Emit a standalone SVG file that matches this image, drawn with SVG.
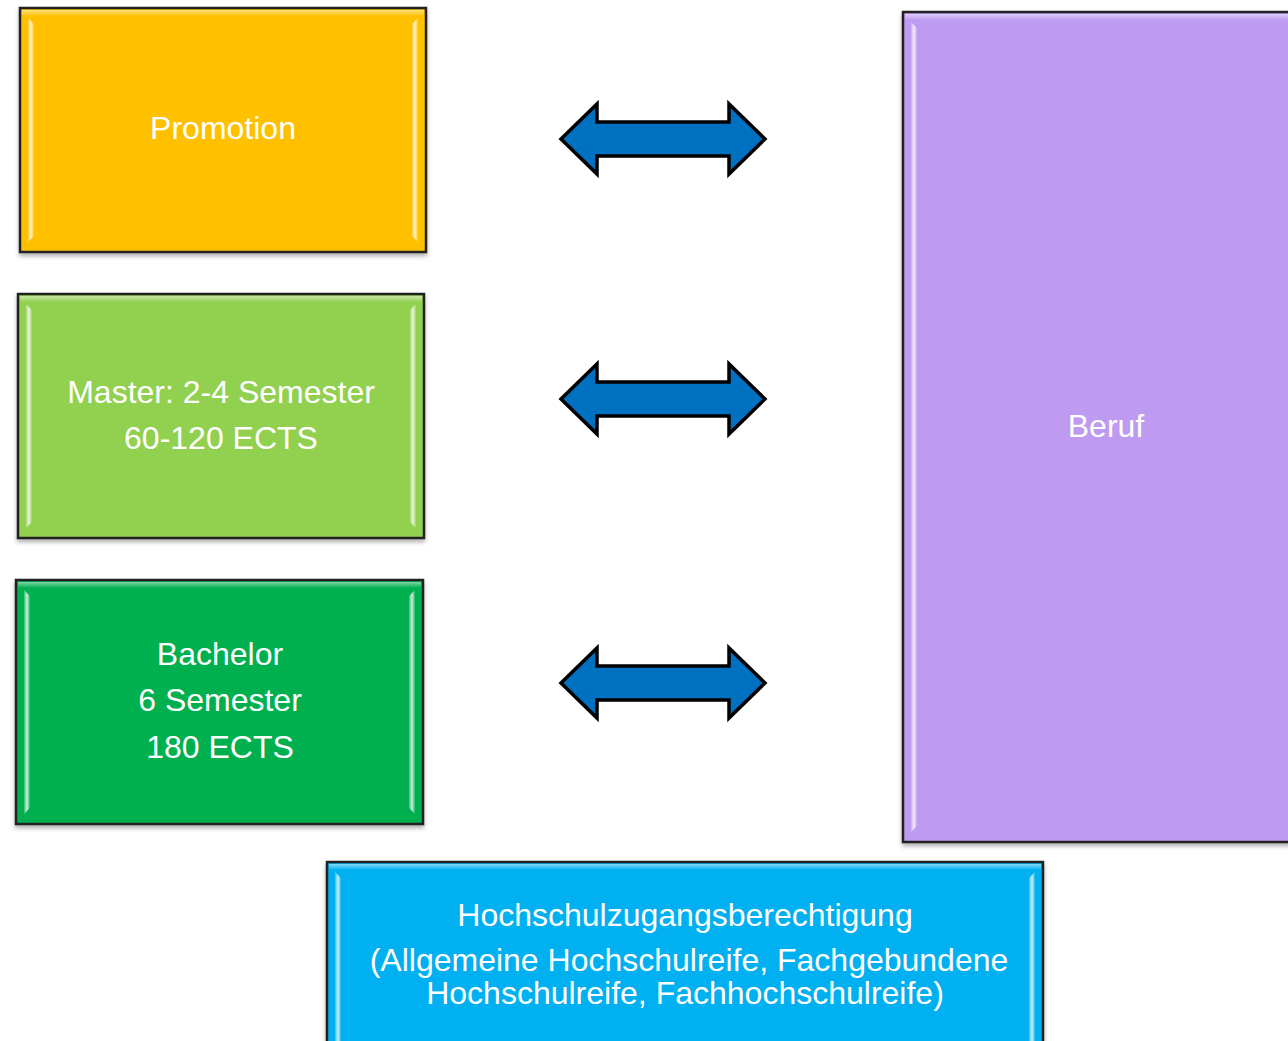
<svg xmlns="http://www.w3.org/2000/svg" width="1288" height="1041" viewBox="0 0 1288 1041">
<defs>
<filter id="sh" x="-5%" y="-5%" width="110%" height="115%"><feDropShadow dx="0" dy="3" stdDeviation="2" flood-color="#000" flood-opacity="0.3"/></filter>
<linearGradient id="hl" x1="0" y1="0" x2="1" y2="0"><stop offset="0" stop-color="#fff" stop-opacity="0.2"/><stop offset="0.5" stop-color="#fff" stop-opacity="0.8"/><stop offset="1" stop-color="#fff" stop-opacity="0.1"/></linearGradient>
<linearGradient id="ht" x1="0" y1="0" x2="0" y2="1"><stop offset="0" stop-color="#fff" stop-opacity="0.5"/><stop offset="1" stop-color="#fff" stop-opacity="0"/></linearGradient>
<path id="arr" d="M2,38 L38,3 L38,21 L170,21 L170,3 L206,38 L170,73 L170,55 L38,55 L38,73 Z"/>
</defs>
<style>
.box{stroke:#222;stroke-width:2.5}
.t{font-family:"Liberation Sans",Arial,sans-serif;font-size:32px;fill:#fff;text-anchor:middle}
.a{fill:#0070C0;stroke:#000;stroke-width:3.5;stroke-linejoin:miter}
</style>
<rect width="1288" height="1041" fill="#fff"/>
<g id="promotion">
<rect class="box" x="20" y="8" width="406" height="244" fill="#FFC000" filter="url(#sh)"/>
<rect x="22" y="10" width="402" height="6" fill="url(#ht)"/>
<path d="M28,18 L34,24 L34,236 L28,242 Z" fill="url(#hl)"/>
<path d="M418,18 L412,24 L412,236 L418,242 Z" fill="url(#hl)"/>
<text class="t" x="223" y="139">Promotion</text>
</g>
<g id="master">
<rect class="box" x="18" y="294" width="406" height="244" fill="#92D050" filter="url(#sh)"/>
<rect x="20" y="296" width="402" height="6" fill="url(#ht)"/>
<path d="M26,304 L32,310 L32,522 L26,528 Z" fill="url(#hl)"/>
<path d="M416,304 L410,310 L410,522 L416,528 Z" fill="url(#hl)"/>
<text class="t" x="221" y="403">Master: 2-4 Semester</text>
<text class="t" x="221" y="449">60-120 ECTS</text>
</g>
<g id="bachelor">
<rect class="box" x="16" y="580" width="407" height="244" fill="#00B050" filter="url(#sh)"/>
<rect x="18" y="582" width="403" height="6" fill="url(#ht)"/>
<path d="M24,590 L30,596 L30,808 L24,814 Z" fill="url(#hl)"/>
<path d="M415,590 L409,596 L409,808 L415,814 Z" fill="url(#hl)"/>
<text class="t" x="220" y="665">Bachelor</text>
<text class="t" x="220" y="711">6 Semester</text>
<text class="t" x="220" y="758">180 ECTS</text>
</g>
<g id="beruf">
<rect class="box" x="903" y="12" width="400" height="830" fill="#BE9AF0" filter="url(#sh)"/>
<rect x="905" y="14" width="383" height="6" fill="url(#ht)"/>
<path d="M911,22 L917,28 L917,826 L911,832 Z" fill="url(#hl)"/>
<text class="t" x="1106" y="437">Beruf</text>
</g>
<g id="hzb">
<rect class="box" x="327" y="862" width="716" height="200" fill="#00B0F0" filter="url(#sh)"/>
<rect x="329" y="864" width="712" height="6" fill="url(#ht)"/>
<path d="M335,872 L341,878 L341,1041 L335,1041 Z" fill="url(#hl)"/>
<path d="M1035,872 L1029,878 L1029,1041 L1035,1041 Z" fill="url(#hl)"/>
<text class="t" x="685" y="926">Hochschulzugangsberechtigung</text>
<text class="t" x="689" y="971">(Allgemeine Hochschulreife, Fachgebundene</text>
<text class="t" x="685" y="1004">Hochschulreife, Fachhochschulreife)</text>
</g>
<g id="connectors">
<use href="#arr" class="a" x="559" y="101"/>
<use href="#arr" class="a" x="559" y="361"/>
<use href="#arr" class="a" x="559" y="645"/>
</g>
</svg>
